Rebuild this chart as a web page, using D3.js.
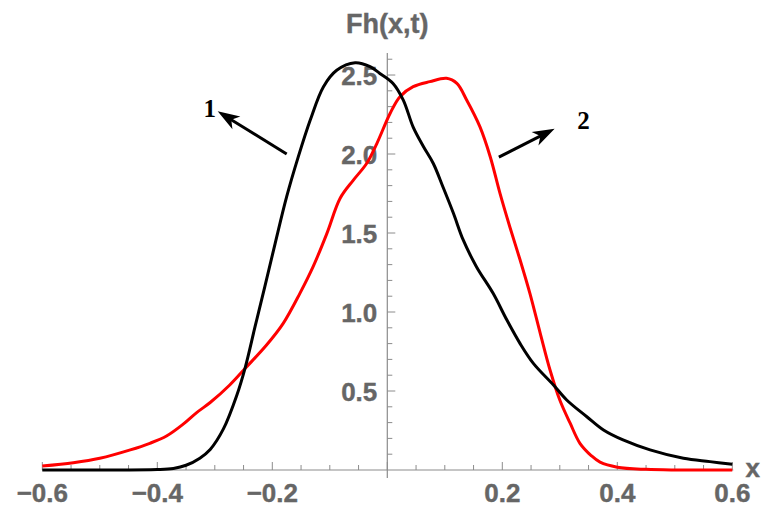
<!DOCTYPE html>
<html>
<head>
<meta charset="utf-8">
<script src="https://cdn.jsdelivr.net/npm/d3@7"></script>
<style>
  html, body { margin: 0; padding: 0; background: #fff; }
  svg { display: block; }
</style>
</head>
<body>
<svg id="chart" width="762" height="508"></svg>
<script>
// ---- data ----
const curve1X = [-0.6, -0.5, -0.4, -0.372, -0.35, -0.326, -0.308, -0.285, -0.262, -0.247, -0.23, -0.213, -0.195, -0.175, -0.155, -0.134, -0.111, -0.088, -0.056, -0.03, -0.013, 0.01, 0.028, 0.045, 0.063, 0.08, 0.097, 0.115, 0.132, 0.155, 0.184, 0.208, 0.231, 0.254, 0.289, 0.312, 0.347, 0.376, 0.41, 0.457, 0.515, 0.561, 0.6];
const curve1Y = [0.0, 0.0, 0.003, 0.01, 0.03, 0.075, 0.13, 0.26, 0.47, 0.65, 0.907, 1.16, 1.435, 1.73, 1.98, 2.215, 2.426, 2.53, 2.578, 2.553, 2.51, 2.447, 2.34, 2.17, 2.046, 1.94, 1.79, 1.625, 1.456, 1.287, 1.118, 0.949, 0.80, 0.675, 0.538, 0.443, 0.337, 0.253, 0.19, 0.127, 0.074, 0.053, 0.036];

const curve2X = [-0.6, -0.546, -0.5, -0.447, -0.413, -0.384, -0.355, -0.331, -0.308, -0.274, -0.247, -0.21, -0.181, -0.152, -0.129, -0.105, -0.082, -0.059, -0.036, -0.018, 0.005, 0.022, 0.045, 0.074, 0.103, 0.121, 0.138, 0.161, 0.179, 0.196, 0.213, 0.231, 0.248, 0.266, 0.283, 0.3, 0.318, 0.335, 0.355, 0.37, 0.4, 0.45, 0.5, 0.6];
const curve2Y = [0.025, 0.046, 0.074, 0.127, 0.169, 0.215, 0.29, 0.365, 0.427, 0.538, 0.644, 0.791, 0.928, 1.118, 1.287, 1.498, 1.72, 1.835, 1.94, 2.068, 2.258, 2.363, 2.426, 2.458, 2.479, 2.447, 2.342, 2.173, 1.983, 1.751, 1.54, 1.329, 1.118, 0.865, 0.633, 0.443, 0.296, 0.169, 0.09, 0.05, 0.018, 0.004, 0.0, 0.0];

const xTickLabels = [-0.6, -0.4, -0.2, 0.2, 0.4, 0.6];
const yTickLabels = [0.5, 1.0, 1.5, 2.0, 2.5];
const xTitle = "x";
const yTitle = "Fh(x,t)";
const annotations = [
  { label: "1", from: [-0.175, 2.0], to: [-0.295, 2.27], text: [-0.309, 2.235] },
  { label: "2", from: [0.194, 1.98], to: [0.291, 2.16], text: [0.341, 2.157] }
];

// ---- layout ----
const W = 762, H = 508;
const margin = { left: 42.3, right: 29.7, top: 52.9, bottom: 38 };
const svg = d3.select("#chart");

const x = d3.scaleLinear().domain([-0.6, 0.6]).range([margin.left, W - margin.right]);
const y = d3.scaleLinear().domain([0, 2.64]).range([H - margin.bottom, margin.top]);

const axisColor = "#8c8c8c";
const labelColor = "#666666";
const font = "'Liberation Sans', Arial, sans-serif";

// x axis
const x0 = y(0);
svg.append("line").attr("x1", x(-0.6)).attr("x2", x(0.6) + 1).attr("y1", x0).attr("y2", x0)
  .attr("stroke", axisColor).attr("stroke-width", 1.2);
const xMinor = d3.range(-0.6, 0.6001, 0.05).map(v => Math.round(v * 100) / 100);
svg.append("g").selectAll("line").data(xMinor).join("line")
  .attr("x1", d => x(d)).attr("x2", d => x(d))
  .attr("y1", x0).attr("y2", d => x0 - (Math.abs(Math.round(d * 100)) % 20 === 0 ? 8 : 5))
  .attr("stroke", axisColor).attr("stroke-width", 1);
svg.append("g").selectAll("text").data(xTickLabels).join("text")
  .attr("x", d => x(d)).attr("y", 502)
  .attr("text-anchor", "middle")
  .attr("font-family", font).attr("font-weight", "bold").attr("font-size", 26)
  .attr("fill", labelColor).attr("stroke", labelColor).attr("stroke-width", 0.4)
  .text(d => (d < 0 ? "\u2212" : "") + Math.abs(d).toFixed(1));

// y axis
const y0x = x(0);
svg.append("line").attr("x1", y0x).attr("x2", y0x).attr("y1", y(2.64)).attr("y2", x0 + 8)
  .attr("stroke", axisColor).attr("stroke-width", 1.2);
const yMinor = d3.range(0.1, 2.6501, 0.1).map(v => Math.round(v * 10) / 10).filter(v => v <= 2.6);
svg.append("g").selectAll("line").data(yMinor).join("line")
  .attr("x1", y0x).attr("x2", d => y0x + (Math.round(d * 10) % 5 === 0 ? 8 : 5))
  .attr("y1", d => y(d)).attr("y2", d => y(d))
  .attr("stroke", axisColor).attr("stroke-width", 1);
svg.append("g").selectAll("text").data(yTickLabels).join("text")
  .attr("x", y0x - 10).attr("y", d => y(d) + 9.5)
  .attr("text-anchor", "end")
  .attr("font-family", font).attr("font-weight", "bold").attr("font-size", 26)
  .attr("fill", labelColor).attr("stroke", labelColor).attr("stroke-width", 0.4)
  .text(d => d.toFixed(1));

// axis titles
svg.append("text").attr("x", y0x).attr("y", 33)
  .attr("text-anchor", "middle")
  .attr("font-family", font).attr("font-weight", "bold").attr("font-size", 27)
  .attr("fill", labelColor).attr("stroke", labelColor).attr("stroke-width", 0.4).text(yTitle);
svg.append("text").attr("x", 760).attr("y", 477)
  .attr("text-anchor", "end")
  .attr("font-family", font).attr("font-weight", "bold").attr("font-size", 26)
  .attr("fill", labelColor).attr("stroke", labelColor).attr("stroke-width", 0.4).text(xTitle);

// curves
const line = d3.line().x(d => x(d[0])).y(d => y(d[1])).curve(d3.curveCatmullRom.alpha(0.5));
const data1 = curve1X.map((v, i) => [v, curve1Y[i]]);
const data2 = curve2X.map((v, i) => [v, curve2Y[i]]);
svg.append("path").datum(data2).attr("d", line)
  .attr("fill", "none").attr("stroke", "#ff0000").attr("stroke-width", 3).attr("stroke-linejoin", "round");
svg.append("path").datum(data1).attr("d", line)
  .attr("fill", "none").attr("stroke", "#000000").attr("stroke-width", 3).attr("stroke-linejoin", "round");

// annotations with arrows
annotations.forEach(a => {
  const [fx, fy] = [x(a.from[0]), y(a.from[1])];
  const [tx, ty] = [x(a.to[0]), y(a.to[1])];
  const ang = Math.atan2(ty - fy, tx - fx);
  const L = 22, Wd = 7.5, notch = 16;
  const ux = Math.cos(ang), uy = Math.sin(ang);
  const px = -uy, py = ux;
  const baseX = tx - ux * L, baseY = ty - uy * L;
  const notchX = tx - ux * notch, notchY = ty - uy * notch;
  svg.append("line").attr("x1", fx).attr("y1", fy).attr("x2", notchX + ux * 2).attr("y2", notchY + uy * 2)
    .attr("stroke", "#000").attr("stroke-width", 3);
  svg.append("path")
    .attr("d", `M${tx},${ty} L${baseX + px * Wd},${baseY + py * Wd} L${notchX},${notchY} L${baseX - px * Wd},${baseY - py * Wd} Z`)
    .attr("fill", "#000");
  svg.append("text").attr("x", x(a.text[0])).attr("y", y(a.text[1]))
    .attr("text-anchor", "middle")
    .attr("font-family", "'Liberation Serif', 'Times New Roman', serif")
    .attr("font-weight", "bold").attr("font-size", 25)
    .attr("fill", "#000").text(a.label);
});
</script>
</body>
</html>
